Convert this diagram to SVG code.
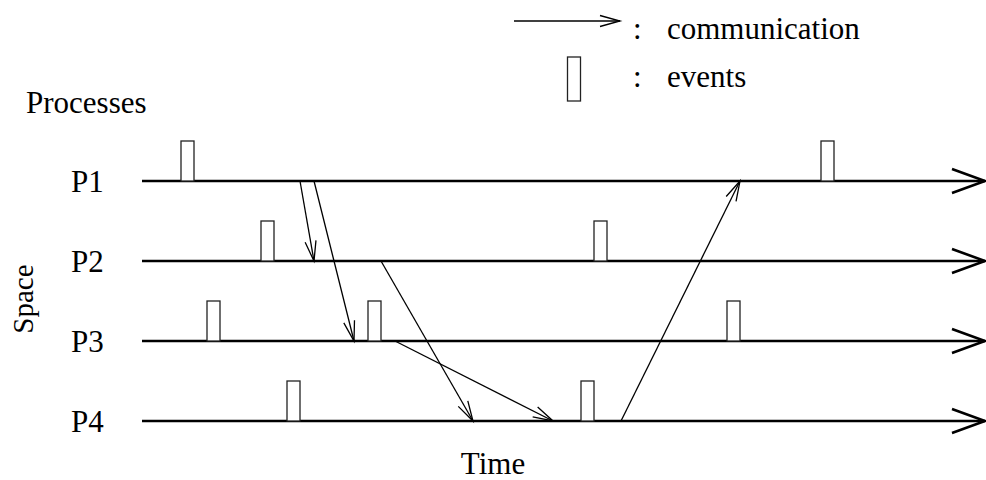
<svg xmlns="http://www.w3.org/2000/svg" width="986" height="480" viewBox="0 0 986 480">
  <style>
    .lbl { font-family: "Liberation Serif", "Times New Roman", serif; font-size: 31px; fill: #000; }
    .axis { stroke: #000; stroke-width: 2.6; fill: none; }
    .msg { stroke: #000; stroke-width: 1.3; fill: none; }
    .ev { stroke: #222; stroke-width: 1.3; fill: #fff; }
  </style>
  <defs>
    <marker id="open" markerUnits="userSpaceOnUse" markerWidth="24" markerHeight="14" viewBox="-22 -7 24 14" refX="0" refY="0" orient="auto" overflow="visible">
      <path d="M-20,-5.5 L0,0 L-20,5.5" fill="none" stroke="#000" stroke-width="1.3"/>
    </marker>
    <marker id="axisHead" markerUnits="userSpaceOnUse" markerWidth="36" markerHeight="28" viewBox="-35 -14 36 28" refX="0" refY="0" orient="auto" overflow="visible">
      <path d="M-33,-12 L0,0 L-33,12" fill="none" stroke="#000" stroke-width="2.6"/>
    </marker>
  </defs>

  <!-- legend -->
  <g id="legend">
    <line class="msg" x1="514" y1="21" x2="620" y2="21" marker-end="url(#open)"/>
    <text class="lbl" x="633" y="39">:</text>
    <text class="lbl" x="667" y="39">communication</text>
    <rect class="ev" x="567.5" y="57" width="13" height="44"/>
    <text class="lbl" x="633" y="87">:</text>
    <text class="lbl" x="667" y="87">events</text>
  </g>

  <!-- axis titles -->
  <text class="lbl" x="26" y="113">Processes</text>
  <text class="lbl" x="493" y="474" text-anchor="middle">Time</text>
  <text class="lbl" style="font-size:29px" transform="translate(33,299) rotate(-90)" text-anchor="middle">Space</text>

  <!-- process timelines -->
  <g id="P1">
    <text class="lbl" x="71" y="192">P1</text>
    <line class="axis" x1="142" y1="181" x2="985" y2="181" marker-end="url(#axisHead)"/>
    <rect class="ev" x="181" y="141" width="13" height="40"/>
    <rect class="ev" x="821" y="141" width="13" height="40"/>
  </g>
  <g id="P2">
    <text class="lbl" x="71" y="272">P2</text>
    <line class="axis" x1="142" y1="261" x2="985" y2="261" marker-end="url(#axisHead)"/>
    <rect class="ev" x="261" y="221" width="13" height="40"/>
    <rect class="ev" x="594" y="221" width="13" height="40"/>
  </g>
  <g id="P3">
    <text class="lbl" x="71" y="352">P3</text>
    <line class="axis" x1="142" y1="341" x2="985" y2="341" marker-end="url(#axisHead)"/>
    <rect class="ev" x="207" y="301" width="13" height="40"/>
    <rect class="ev" x="368" y="301" width="13" height="40"/>
    <rect class="ev" x="727" y="301" width="13" height="40"/>
  </g>
  <g id="P4">
    <text class="lbl" x="71" y="432">P4</text>
    <line class="axis" x1="142" y1="421" x2="985" y2="421" marker-end="url(#axisHead)"/>
    <rect class="ev" x="287" y="381" width="13" height="40"/>
    <rect class="ev" x="581" y="381" width="13" height="40"/>
  </g>

  <!-- messages -->
  <g id="connectors">
    <line class="msg" x1="300" y1="181" x2="314" y2="261" marker-end="url(#open)"/>
    <line class="msg" x1="314" y1="181" x2="354" y2="341" marker-end="url(#open)"/>
    <line class="msg" x1="381" y1="261" x2="473" y2="421" marker-end="url(#open)"/>
    <line class="msg" x1="395" y1="341" x2="553" y2="421" marker-end="url(#open)"/>
    <line class="msg" x1="621" y1="421" x2="740" y2="181" marker-end="url(#open)"/>
  </g>
</svg>
